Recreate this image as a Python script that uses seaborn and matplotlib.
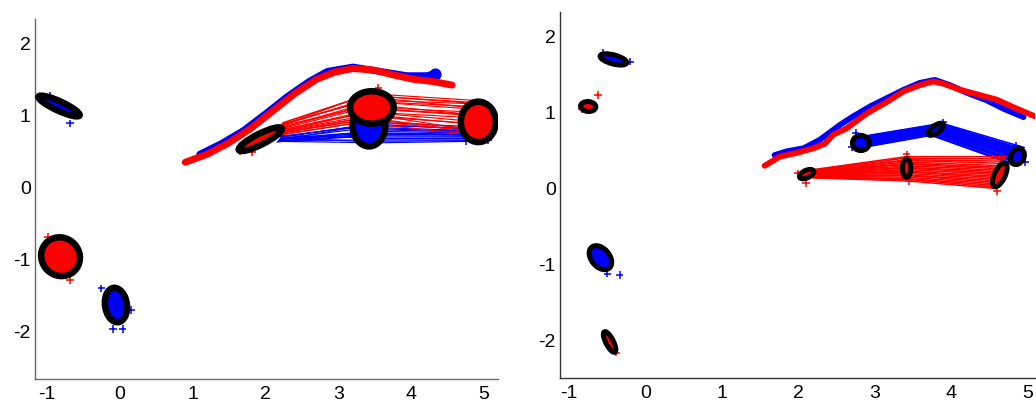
import numpy as np
import pandas as pd
import matplotlib
matplotlib.use("Agg")
import matplotlib.pyplot as plt
from matplotlib.patches import Ellipse
import seaborn as sns

# ---------------- left panel ----------------
# cluster ellipses: centre, full width/height, rotation (deg), colour
L_cx = [-0.83, -0.81, -0.05, 1.93, 3.42, 3.46, 4.92]
L_cy = [1.13, -0.96, -1.63, 0.67, 0.86, 1.11, 0.91]
L_w = [0.62, 0.55, 0.30, 0.66, 0.45, 0.60, 0.48]
L_h = [0.13, 0.52, 0.48, 0.15, 0.58, 0.45, 0.56]
L_ang = [-25, -50, 8, 27, 0, 0, 0]
L_col = ["blue", "red", "blue", "red", "blue", "red", "red"]

# trajectories
L_red_x = [0.90, 1.20, 1.50, 1.80, 2.10, 2.40, 2.70, 2.95, 3.20, 3.48, 3.76, 4.03, 4.30, 4.56]
L_red_y = [0.35, 0.46, 0.62, 0.82, 1.06, 1.30, 1.50, 1.60, 1.65, 1.63, 1.56, 1.50, 1.47, 1.42]
L_blue_x = [1.10, 1.40, 1.70, 2.00, 2.30, 2.60, 2.85, 3.20, 3.57, 3.94, 4.21, 4.33]
L_blue_y = [0.46, 0.61, 0.79, 1.02, 1.26, 1.47, 1.61, 1.67, 1.61, 1.55, 1.55, 1.58]

# linked samples: start -> middle -> end
L_red_x0 = [2.18, 2.20, 2.17, 2.22, 2.19, 2.23, 2.16, 2.21, 2.22, 2.18, 2.21, 2.20, 2.17, 2.22, 2.20, 2.17, 2.23, 2.16, 2.24, 2.19]
L_red_y0 = [0.77, 0.82, 0.74, 0.86, 0.79, 0.89, 0.73, 0.83, 0.87, 0.77, 0.85, 0.80, 0.76, 0.86, 0.81, 0.75, 0.88, 0.72, 0.90, 0.78]
L_red_x1 = [3.18, 3.22, 3.26, 3.30, 3.34, 3.38, 3.42, 3.46, 3.50, 3.54, 3.58, 3.62, 3.66, 3.20, 3.35, 3.48, 3.60, 3.28, 3.44, 3.56]
L_red_y1 = [1.00, 1.12, 0.95, 1.20, 1.05, 1.28, 0.92, 1.15, 1.25, 1.00, 1.18, 1.08, 0.98, 1.22, 1.10, 0.96, 1.26, 0.90, 1.30, 1.03]
L_red_x2 = [4.70, 4.78, 4.85, 4.92, 4.98, 5.05, 5.10, 4.74, 4.88, 5.02, 4.95, 5.12, 4.80, 4.90, 5.08, 4.76, 4.86, 4.96, 5.00, 4.82]
L_red_y2 = [0.90, 1.05, 0.82, 1.12, 0.96, 1.15, 0.76, 1.02, 1.10, 0.86, 1.08, 0.98, 0.80, 1.16, 1.00, 0.78, 1.18, 0.72, 1.20, 0.92]

L_blue_x0 = [2.17, 2.19, 2.21, 2.18, 2.22, 2.20, 2.16, 2.23, 2.19, 2.21, 2.18, 2.20, 2.22, 2.17, 2.21, 2.19]
L_blue_y0 = [0.64, 0.66, 0.68, 0.65, 0.70, 0.67, 0.63, 0.72, 0.66, 0.69, 0.65, 0.71, 0.68, 0.64, 0.70, 0.67]
L_blue_x1 = [3.22, 3.28, 3.34, 3.40, 3.46, 3.52, 3.58, 3.64, 3.25, 3.31, 3.37, 3.43, 3.49, 3.55, 3.61, 3.36]
L_blue_y1 = [0.70, 0.76, 0.82, 0.66, 0.88, 0.74, 0.80, 0.68, 0.84, 0.64, 0.72, 0.86, 0.78, 0.62, 0.90, 0.75]
L_blue_x2 = [4.72, 4.78, 4.84, 4.90, 4.96, 5.02, 5.08, 4.75, 4.81, 4.87, 4.93, 4.99, 5.05, 4.80, 4.92, 5.10]
L_blue_y2 = [0.70, 0.74, 0.78, 0.66, 0.80, 0.72, 0.76, 0.68, 0.79, 0.65, 0.71, 0.82, 0.75, 0.64, 0.84, 0.73]

# stray samples outside the ellipses
L_out_x = [-0.68, -0.95, -0.98, -0.68, -0.25, -0.09, 0.04, 0.16, 1.65, 1.82, 5.05, 4.75, 3.55]
L_out_y = [0.89, 1.27, -0.68, -1.28, -1.40, -1.96, -1.96, -1.70, 0.50, 0.49, 0.66, 0.64, 1.38]
L_out_c = ["blue", "blue", "red", "red", "blue", "blue", "blue", "blue", "red", "red", "blue", "blue", "red"]

# ---------------- right panel ----------------
R_cx = [-0.42, -0.75, -0.59, -0.47, 2.82, 3.80, 4.87, 2.11, 3.42, 4.64]
R_cy = [1.70, 1.08, -0.91, -2.02, 0.60, 0.78, 0.42, 0.19, 0.27, 0.18]
R_w = [0.36, 0.20, 0.36, 0.30, 0.22, 0.24, 0.22, 0.20, 0.11, 0.34]
R_h = [0.12, 0.13, 0.24, 0.10, 0.20, 0.10, 0.17, 0.10, 0.24, 0.14]
R_ang = [-15, -5, -50, -63, 0, 35, 60, 25, 0, 65]
R_col = ["blue", "red", "blue", "red", "blue", "blue", "blue", "red", "red", "red"]

R_red_x = [1.56, 1.76, 1.98, 2.20, 2.35, 2.46, 2.63, 2.90, 3.16, 3.38, 3.59, 3.77, 3.90, 4.12, 4.38, 4.60, 4.82, 5.10]
R_red_y = [0.30, 0.42, 0.47, 0.53, 0.59, 0.71, 0.79, 0.99, 1.14, 1.28, 1.36, 1.41, 1.38, 1.30, 1.23, 1.17, 1.07, 0.95]
R_blue_x = [1.69, 1.85, 2.07, 2.28, 2.55, 2.72, 2.94, 3.16, 3.38, 3.59, 3.79, 3.99, 4.21, 4.47, 4.69, 4.95]
R_blue_y = [0.44, 0.49, 0.53, 0.64, 0.84, 0.95, 1.08, 1.19, 1.30, 1.39, 1.43, 1.36, 1.26, 1.16, 1.05, 0.94]

R_red_x0 = [2.19, 2.20, 2.18, 2.21, 2.20, 2.22, 2.19, 2.21, 2.20, 2.18, 2.22, 2.20, 2.19, 2.21, 2.20, 2.22, 2.18, 2.21, 2.19, 2.20]
R_red_y0 = [0.14, 0.145, 0.15, 0.16, 0.165, 0.17, 0.175, 0.18, 0.185, 0.19, 0.195, 0.20, 0.205, 0.21, 0.215, 0.22, 0.23, 0.235, 0.24, 0.25]
R_red_x1 = [3.44, 3.43, 3.45, 3.42, 3.44, 3.41, 3.43, 3.42, 3.40, 3.44, 3.41, 3.43, 3.42, 3.40, 3.43, 3.41, 3.42, 3.44, 3.40, 3.42]
R_red_y1 = [0.10, 0.12, 0.13, 0.15, 0.17, 0.18, 0.20, 0.22, 0.23, 0.25, 0.27, 0.28, 0.30, 0.32, 0.33, 0.35, 0.37, 0.38, 0.40, 0.42]
R_red_x2 = [4.60, 4.59, 4.61, 4.62, 4.60, 4.63, 4.62, 4.64, 4.63, 4.65, 4.64, 4.66, 4.65, 4.67, 4.66, 4.68, 4.70, 4.69, 4.71, 4.72]
R_red_y2 = [0.00, 0.02, 0.04, 0.06, 0.08, 0.10, 0.12, 0.14, 0.16, 0.18, 0.20, 0.22, 0.24, 0.26, 0.28, 0.30, 0.33, 0.36, 0.39, 0.42]

R_blue_x0 = [2.90, 2.91, 2.89, 2.92, 2.90, 2.91, 2.93, 2.90, 2.92, 2.89, 2.91, 2.90, 2.92, 2.91, 2.93, 2.90, 2.92, 2.91, 2.90, 2.92]
R_blue_y0 = [0.55, 0.56, 0.57, 0.58, 0.59, 0.60, 0.60, 0.61, 0.62, 0.62, 0.63, 0.64, 0.64, 0.65, 0.66, 0.66, 0.67, 0.68, 0.69, 0.70]
R_blue_x1 = [3.74, 3.75, 3.76, 3.77, 3.77, 3.78, 3.79, 3.79, 3.80, 3.81, 3.81, 3.82, 3.83, 3.83, 3.84, 3.85, 3.85, 3.86, 3.87, 3.88]
R_blue_y1 = [0.70, 0.71, 0.72, 0.73, 0.74, 0.74, 0.75, 0.76, 0.77, 0.77, 0.78, 0.79, 0.80, 0.80, 0.81, 0.82, 0.83, 0.84, 0.85, 0.86]
R_blue_x2 = [4.80, 4.81, 4.82, 4.83, 4.84, 4.85, 4.85, 4.86, 4.87, 4.87, 4.88, 4.89, 4.90, 4.90, 4.91, 4.92, 4.93, 4.94, 4.95, 4.96]
R_blue_y2 = [0.32, 0.33, 0.35, 0.36, 0.37, 0.38, 0.40, 0.41, 0.42, 0.43, 0.44, 0.45, 0.46, 0.47, 0.48, 0.49, 0.50, 0.51, 0.52, 0.54]

R_out_x = [-0.55, -0.20, -0.62, -0.83, -0.34, -0.68, -0.50, -0.38, -0.52, 2.75, 2.70, 3.90, 4.97, 4.85, 2.00, 2.10, 3.42, 3.45, 4.60]
R_out_y = [1.79, 1.67, 1.23, 1.05, -1.14, -0.79, -1.12, -2.16, -1.90, 0.73, 0.55, 0.87, 0.35, 0.56, 0.20, 0.07, 0.45, 0.10, -0.03]
R_out_c = ["blue", "blue", "red", "red", "blue", "blue", "blue", "red", "red", "blue", "blue",
           "blue", "blue", "blue", "red", "red", "red", "red", "red"]

x_ticks = [-1, 0, 1, 2, 3, 4, 5]
y_ticks = [-2, -1, 0, 1, 2]

sns.set_theme(style="white")
plt.rcParams["font.family"] = ["Liberation Sans", "DejaVu Sans"]

fig = plt.figure(figsize=(10.36, 4.05), dpi=100)
ax_l = fig.add_axes([0.0338, 0.0642, 0.4469, 0.8889])
ax_r = fig.add_axes([0.5405, 0.0674, 0.4585, 0.9022])


def paths_frame(x0, y0, x1, y1, x2, y2):
    rows = []
    for i in range(len(x0)):
        rows += [(i, x0[i], y0[i]), (i, x1[i], y1[i]), (i, x2[i], y2[i])]
    return pd.DataFrame(rows, columns=["pid", "x", "y"])


def draw_panel(ax, cx, cy, w, h, ang, col, ring_lw,
               rx, ry, bx, by, traj_lw, red_paths, blue_paths, link_lw,
               ox, oy, oc, xlim, ylim, spine_col):
    # linked samples
    for frame, c in ((blue_paths, "blue"), (red_paths, "red")):
        sns.lineplot(data=frame, x="x", y="y", units="pid", estimator=None,
                     sort=False, color=c, lw=link_lw, ax=ax,
                     legend=False, zorder=2)
    # stray samples
    sns.scatterplot(x=ox, y=oy, hue=oc, palette={"red": "red", "blue": "blue"},
                    marker="+", s=30, linewidth=1.1, ax=ax, legend=False, zorder=3)
    # clusters
    for i in range(len(cx)):
        ax.add_patch(Ellipse((cx[i], cy[i]), w[i], h[i], angle=ang[i],
                             facecolor=col[i], edgecolor="black",
                             lw=ring_lw, zorder=4 + 0.01 * i))
    # trajectories
    sns.lineplot(x=bx, y=by, sort=False, estimator=None, color="blue",
                 lw=traj_lw, solid_capstyle="round", ax=ax, zorder=6)
    sns.lineplot(x=rx, y=ry, sort=False, estimator=None, color="red",
                 lw=traj_lw, solid_capstyle="round", ax=ax, zorder=7)

    ax.set_xlim(*xlim)
    ax.set_ylim(*ylim)
    ax.set_xticks(x_ticks)
    ax.set_yticks(y_ticks)
    ax.set_xticklabels([str(t) for t in x_ticks])
    ax.set_yticklabels([str(t) for t in y_ticks])
    ax.set_xlabel("")
    ax.set_ylabel("")
    ax.tick_params(direction="in", length=4, width=0.8, colors=spine_col,
                   labelcolor="black", labelsize=14)
    ax.tick_params(axis="x", pad=5)
    ax.tick_params(axis="y", pad=3)
    for s in ("top", "right"):
        ax.spines[s].set_visible(False)
    for s in ("left", "bottom"):
        ax.spines[s].set_color(spine_col)
        ax.spines[s].set_linewidth(1.0)
    ax.set_facecolor("white")


draw_panel(ax_l, L_cx, L_cy, L_w, L_h, L_ang, L_col, 4.7,
           L_red_x, L_red_y, L_blue_x, L_blue_y, 5.0,
           paths_frame(L_red_x0, L_red_y0, L_red_x1, L_red_y1, L_red_x2, L_red_y2),
           paths_frame(L_blue_x0, L_blue_y0, L_blue_x1, L_blue_y1, L_blue_x2, L_blue_y2),
           0.85,
           L_out_x, L_out_y, L_out_c, (-1.16, 5.19), (-2.656, 2.337), "#6a6a6a")
# end marker of the blue track
ax_l.scatter([L_blue_x[-1]], [L_blue_y[-1]], s=60, color="blue", zorder=6)

draw_panel(ax_r, R_cx, R_cy, R_w, R_h, R_ang, R_col, 3.6,
           R_red_x, R_red_y, R_blue_x, R_blue_y, 4.2,
           paths_frame(R_red_x0, R_red_y0, R_red_x1, R_red_y1, R_red_x2, R_red_y2),
           paths_frame(R_blue_x0, R_blue_y0, R_blue_x1, R_blue_y1, R_blue_x2, R_blue_y2),
           1.1,
           R_out_x, R_out_y, R_out_c, (-1.12, 5.10), (-2.49, 2.32), "#333333")

fig.savefig("out.png", dpi=100, facecolor="white")
